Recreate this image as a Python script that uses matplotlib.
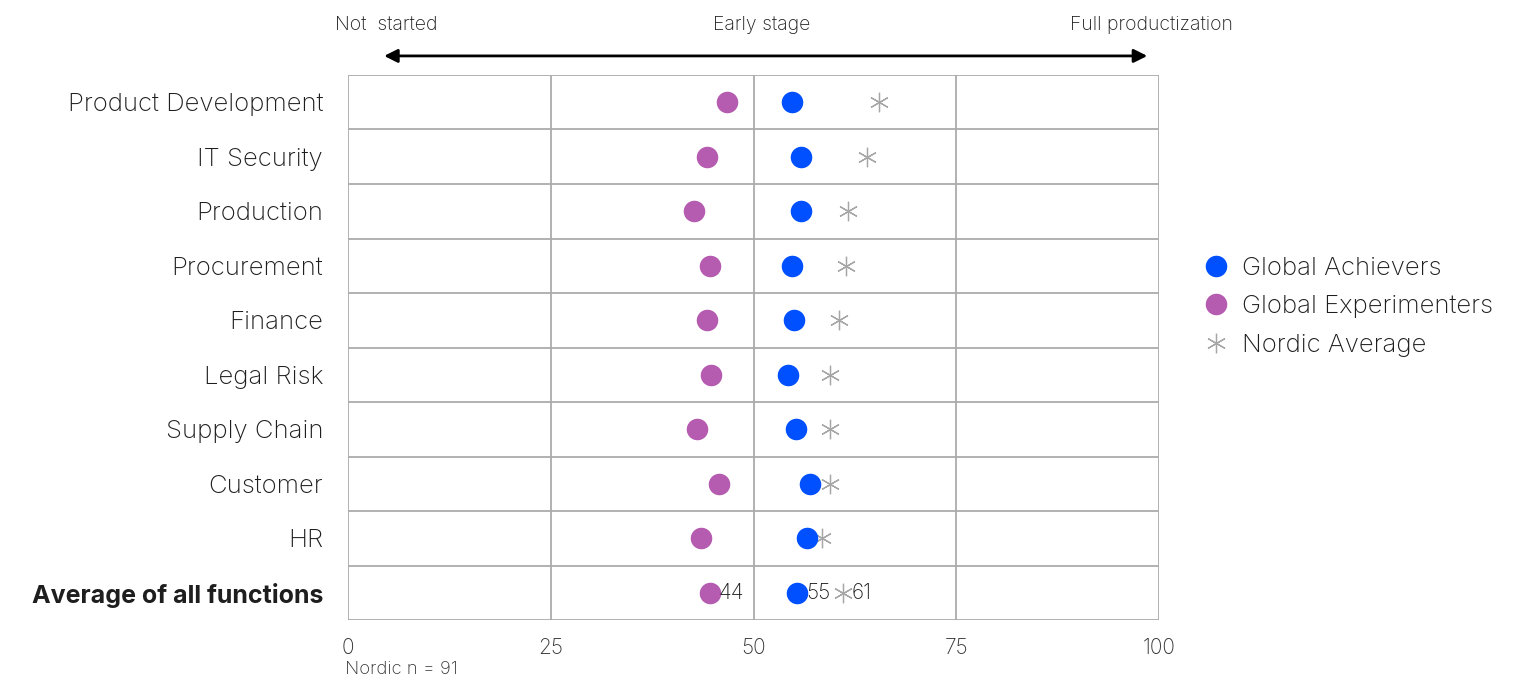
import matplotlib
matplotlib.use("Agg")
import matplotlib.pyplot as plt
from matplotlib.lines import Line2D

plt.rcParams['font.family'] = ['Inter', 'DejaVu Sans']

functions = ["Product Development", "IT Security", "Production", "Procurement",
             "Finance", "Legal Risk", "Supply Chain", "Customer", "HR",
             "Average of all functions"]
achievers = [54.7, 55.9, 55.9, 54.7, 55.0, 54.3, 55.2, 57.0, 56.6, 55.4]
experimenters = [46.7, 44.3, 42.7, 44.6, 44.3, 44.8, 43.0, 45.7, 43.5, 44.6]
nordic = [65.5, 64.0, 61.7, 61.4, 60.6, 59.4, 59.4, 59.4, 58.4, 61.0]
avg_labels = ["44", "55", "61"]
x_ticks = [0, 25, 50, 75, 100]
stage_labels = ["Not  started", "Early stage", "Full productization"]

blue = "#0050FF"
purple = "#B55BB0"
star_grey = "#A6A6A6"
grid_grey = "#ABABAB"
text_col = "#1E1E1E"

fig = plt.figure(figsize=(15.3, 6.83), dpi=100)
ax = fig.add_axes([0.2275, 0.0922, 0.53, 0.798])

rows = list(range(len(functions)))
star = (6, 2, 0)

ax.plot(experimenters, rows, "o", color=purple, markersize=14.5, zorder=3)
ax.plot(achievers, rows, "o", color=blue, markersize=14.5, zorder=3)
ax.plot(nordic, rows, marker=star, linestyle="none", color=star_grey,
        markersize=14, markeredgewidth=0.9, zorder=2)

# value labels on the average row
last = rows[-1]
for val, lab in zip([experimenters[-1], achievers[-1], nordic[-1]], avg_labels):
    ax.text(val + 1.1, last, lab, va="center", ha="left", fontsize=15,
            color=text_col, fontweight="light")

ax.set_xlim(0, 100)
ax.set_ylim(len(functions) - 0.5, -0.5)

for x in x_ticks:
    ax.axvline(x, color=grid_grey, lw=1.3, zorder=1)
for b in range(len(functions) + 1):
    ax.axhline(b - 0.5, color=grid_grey, lw=1.3, zorder=1)
for s in ax.spines.values():
    s.set_visible(False)

ax.set_xticks(x_ticks)
ax.set_xticklabels([str(t) for t in x_ticks], fontsize=15, color="#333333",
                   fontweight="light")
ax.tick_params(axis="x", length=0, pad=13)
ax.set_yticks(rows)
ax.set_yticklabels(functions, fontsize=18.5, color=text_col, fontweight="light")
ax.get_yticklabels()[-1].set_fontweight("bold")
ax.get_yticklabels()[-1].set_fontsize(18)
ax.tick_params(axis="y", length=0, pad=18)

# stage arrow above the plot
ax.annotate("", xy=(98.9, -0.85), xytext=(4.1, -0.85), xycoords="data",
            textcoords="data", annotation_clip=False,
            arrowprops=dict(arrowstyle="<|-|>", color="black", lw=2,
                            mutation_scale=20))
ax.text(-1.6, -1.42, stage_labels[0], ha="left", va="center", fontsize=14,
        color=text_col, fontweight="light", clip_on=False)
ax.text(51.0, -1.42, stage_labels[1], ha="center", va="center", fontsize=14,
        color=text_col, fontweight="light", clip_on=False)
ax.text(99.1, -1.42, stage_labels[2], ha="center", va="center", fontsize=14,
        color=text_col, fontweight="light", clip_on=False)

fig.text(0.2255, 0.013, "Nordic n = 91", fontsize=13.3, color="#333333",
         fontweight="light")

handles = [
    Line2D([], [], marker="o", linestyle="none", color=blue, markersize=14.5),
    Line2D([], [], marker="o", linestyle="none", color=purple, markersize=14.5),
    Line2D([], [], marker=star, linestyle="none", color=star_grey,
           markersize=14, markeredgewidth=0.9),
]
leg = fig.legend(handles, ["Global Achievers", "Global Experimenters", "Nordic Average"],
                 loc="center left", bbox_to_anchor=(0.7715, 0.551), frameon=False,
                 fontsize=18.5, handletextpad=0.5, labelspacing=0.6,
                 handlelength=1.0)
for t in leg.get_texts():
    t.set_color(text_col)
    t.set_fontweight("light")

fig.savefig("out.png", dpi=100)
